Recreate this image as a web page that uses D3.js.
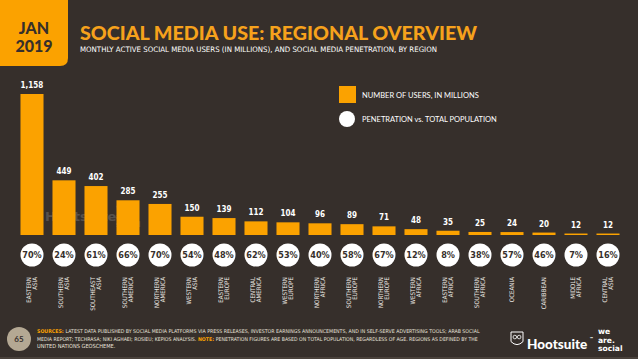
<!DOCTYPE html>
<html>
<head>
<meta charset="utf-8">
<script src="https://cdn.jsdelivr.net/npm/d3@7"></script>
<style>
  html, body { margin: 0; padding: 0; background: #362f2b; }
  svg { display: block; }
</style>
</head>
<body>
<svg id="chart" width="638" height="359"></svg>
<script>
// Data
let regions = [
  "EASTERN\nASIA", "SOUTHERN\nASIA", "SOUTHEAST\nASIA", "SOUTHERN\nAMERICA", "NORTHERN\nAMERICA",
  "WESTERN\nASIA", "EASTERN\nEUROPE", "CENTRAL\nAMERICA", "WESTERN\nEUROPE", "NORTHERN\nAFRICA",
  "SOUTHERN\nEUROPE", "NORTHERN\nEUROPE", "WESTERN\nAFRICA", "EASTERN\nAFRICA", "SOUTHERN\nAFRICA",
  "OCEANIA", "CARIBBEAN", "MIDDLE\nAFRICA", "CENTRAL\nASIA"
]
let users = [1158, 449, 402, 285, 255, 150, 139, 112, 104, 96, 89, 71, 48, 35, 25, 24, 20, 12, 12]
let penetration = [70, 24, 61, 66, 70, 54, 48, 62, 53, 40, 58, 67, 12, 8, 38, 57, 46, 7, 16]

// Colours
let orange = "#fba200"
let bg = "#362f2b"
let cond = "'Liberation Sans Narrow', 'DejaVu Sans Condensed', sans-serif"

let svg = d3.select("#chart")
svg.append("rect").attr("width", 638).attr("height", 359).attr("fill", bg)

// Header tab
svg.append("path")
  .attr("d", "M0,0 H68 V58 Q68,66 60,66 H0 Z")
  .attr("fill", orange)
svg.append("text").attr("x", 34).attr("y", 34).attr("text-anchor", "middle")
  .attr("font-family", "Lato, sans-serif").attr("font-weight", 900).attr("font-size", 16)
  .attr("fill", bg).text("JAN")
svg.append("text").attr("x", 34).attr("y", 52).attr("text-anchor", "middle")
  .attr("font-family", "Lato, sans-serif").attr("font-weight", 900).attr("font-size", 16)
  .attr("fill", bg).text("2019")

svg.append("text").attr("x", 80).attr("y", 40)
  .attr("font-family", "Lato, sans-serif").attr("font-weight", 900).attr("font-size", 19)
  .attr("fill", "#f6a21c").attr("textLength", 397).attr("lengthAdjust", "spacingAndGlyphs")
  .text("SOCIAL MEDIA USE: REGIONAL OVERVIEW")
svg.append("text").attr("x", 80).attr("y", 52)
  .attr("font-family", cond).attr("font-size", 7.5).attr("fill", "#ffffff")
  .attr("textLength", 357).attr("lengthAdjust", "spacingAndGlyphs")
  .text("MONTHLY ACTIVE SOCIAL MEDIA USERS (IN MILLIONS), AND SOCIAL MEDIA PENETRATION, BY REGION")

// Scales
let x = d3.scaleBand().domain(d3.range(regions.length)).range([16, 624])
  .paddingInner(0.28).paddingOuter(0.14)
let y = d3.scaleLinear().domain([0, 1158]).range([235, 94])

// stacked "we are. social" wordmark as one text element
let weAreSocial = (g, x0, y0, fs, gap) => {
  let t = g.append("text").attr("x", x0).attr("y", y0).attr("font-size", fs)
  ;["we", "are.", "social"].forEach((w, k) => {
    t.append("tspan").attr("x", x0).attr("y", y0 + k * gap).text(w)
  })
}
let owl = (g, x0, y0, s) => {
  g.append("path").attr("d", `M${x0},${y0} H${x0 + s} V${y0 + s * 0.8} Q${x0 + s / 2},${y0 + s * 1.3} ${x0},${y0 + s * 0.8} Z`)
    .attr("fill", "none").attr("stroke", "#fff").attr("stroke-width", 1)
  g.append("circle").attr("cx", x0 + s * 0.32).attr("cy", y0 + s * 0.42).attr("r", s * 0.15)
    .attr("fill", "none").attr("stroke", "#fff").attr("stroke-width", 0.8)
  g.append("circle").attr("cx", x0 + s * 0.68).attr("cy", y0 + s * 0.42).attr("r", s * 0.15)
    .attr("fill", "none").attr("stroke", "#fff").attr("stroke-width", 0.8)
}

// Watermark
let wm = svg.append("g").attr("fill", "#ffffff").attr("opacity", 0.16)
  .attr("font-family", "Lato, sans-serif").attr("font-weight", 900)
owl(wm, 29, 208, 12)
wm.append("text").attr("x", 45).attr("y", 221).attr("font-size", 13).text("Hootsuite")
weAreSocial(wm.attr("font-family", "'DejaVu Sans', sans-serif").attr("font-weight", "bold"), 116, 210, 7.6, 8.6)

// Bars
svg.append("g").selectAll("rect").data(users).join("rect")
  .attr("x", (d, i) => x(i))
  .attr("y", d => y(d))
  .attr("width", x.bandwidth())
  .attr("height", d => y(0) - y(d))
  .attr("fill", orange)

svg.append("g").selectAll("text").data(users).join("text")
  .attr("x", (d, i) => x(i) + x.bandwidth() / 2)
  .attr("y", d => y(d) - 6)
  .attr("text-anchor", "middle")
  .attr("font-family", cond).attr("font-weight", "bold").attr("font-size", 8)
  .attr("fill", "#ffffff")
  .text(d => d3.format(",")(d))

// Penetration circles
let pen = svg.append("g").selectAll("g").data(penetration).join("g")
  .attr("transform", (d, i) => `translate(${x(i) + x.bandwidth() / 2},255)`)
pen.append("circle").attr("r", 11.5).attr("fill", "#ffffff")
pen.append("text").attr("y", 3.2).attr("text-anchor", "middle")
  .attr("font-family", cond).attr("font-weight", "bold").attr("font-size", 9)
  .attr("fill", bg).text(d => d + "%")

// Region labels
let lab = svg.append("g").selectAll("text").data(regions).join("text")
  .attr("transform", (d, i) => `translate(${x(i) + x.bandwidth() / 2},277) rotate(-90)`)
  .attr("text-anchor", "end")
  .attr("font-family", cond).attr("font-size", 6.2).attr("fill", "#ece8e2")
lab.each(function(d) {
  let lines = d.split("\n")
  let off = lines.length === 1 ? 2 : -1.5
  lines.forEach((l, k) => {
    d3.select(this).append("tspan").attr("x", 0).attr("y", off + k * 6.5).text(l)
  })
})

// Legend
svg.append("rect").attr("x", 339).attr("y", 86).attr("width", 17).attr("height", 17).attr("fill", orange)
svg.append("text").attr("x", 362).attr("y", 98)
  .attr("font-family", "Lato, sans-serif").attr("font-size", 7.5).attr("fill", "#ffffff")
  .text("NUMBER OF USERS, IN MILLIONS")
svg.append("circle").attr("cx", 347).attr("cy", 119).attr("r", 8).attr("fill", "#ffffff")
svg.append("text").attr("x", 362).attr("y", 122)
  .attr("font-family", "Lato, sans-serif").attr("font-size", 7.5).attr("fill", "#ffffff")
  .text("PENETRATION vs. TOTAL POPULATION")

// Footer
svg.append("circle").attr("cx", 19).attr("cy", 339).attr("r", 12).attr("fill", "#b4a893")
svg.append("text").attr("x", 19).attr("y", 342).attr("text-anchor", "middle")
  .attr("font-family", "Lato, sans-serif").attr("font-weight", "bold").attr("font-size", 8)
  .attr("fill", bg).text("65")

let foot = [
  [["SOURCES:", true], ["LATEST DATA PUBLISHED BY SOCIAL MEDIA PLATFORMS VIA PRESS RELEASES, INVESTOR EARNINGS ANNOUNCEMENTS, AND IN SELF-SERVE ADVERTISING TOOLS; ARAB SOCIAL", false]],
  [["MEDIA REPORT; TECHRASA; NIKI AGHAEI; ROSIEU; KEPIOS ANALYSIS.", false], ["NOTE:", true], ["PENETRATION FIGURES ARE BASED ON TOTAL POPULATION, REGARDLESS OF AGE. REGIONS AS DEFINED BY THE", false]],
  [["UNITED NATIONS GEOSCHEME.", false]]
]
let footW = [444, 443, 0]
foot.forEach((line, k) => {
  let place = fs => {
    svg.selectAll(".f" + k).remove()
    let cx = 37
    line.forEach(p => {
      let t = svg.append("text").attr("class", "f" + k).attr("x", cx).attr("y", 333 + k * 7.6)
        .attr("font-family", cond).attr("font-size", fs)
        .attr("fill", p[1] ? orange : "#e8e3dc")
        .attr("font-weight", p[1] ? "bold" : null)
        .text(p[0])
      cx += t.node().getComputedTextLength() + fs * 0.35
    })
    return cx - 37
  }
  let w = place(5.6)
  if (footW[k] && w > footW[k]) place(5.6 * footW[k] / w)
})

// Logos
let logo = svg.append("g").attr("fill", "#ffffff").attr("font-family", "Lato, sans-serif").attr("font-weight", 900)
owl(logo, 511, 332, 12)
logo.append("text").attr("x", 527).attr("y", 349).attr("font-size", 13.5).text("Hootsuite")
logo.append("text").attr("x", 590).attr("y", 340).attr("font-size", 4).text("™")
let ws = svg.append("g").attr("fill", "#ffffff").attr("font-family", "'DejaVu Sans', sans-serif").attr("font-weight", "bold")
weAreSocial(ws, 598, 334, 7.6, 8.6)

svg.append("rect").attr("x", 0).attr("y", 357).attr("width", 638).attr("height", 2).attr("fill", "#4a423c")
</script>
</body>
</html>
